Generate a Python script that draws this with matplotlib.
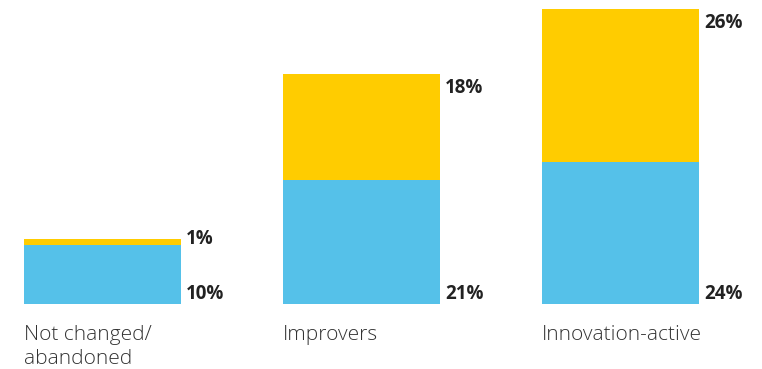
import matplotlib.pyplot as plt

categories = ['Not changed/\nabandoned', 'Improvers', 'Innovation-active']
lower = [10, 21, 24]   # blue
upper = [1, 18, 26]    # yellow

blue = '#55C1E9'
yellow = '#FFCC00'

fig = plt.figure(figsize=(7.62, 3.69), dpi=100)
ax = fig.add_axes([0, 65 / 369, 1, 304 / 369])

x = [0, 1, 2]
w = 157 / 259
ax.bar(x, lower, width=w, color=blue)
ax.bar(x, upper, width=w, bottom=lower, color=yellow)

ax.set_xlim(-102.5 / 259, (762 - 102.5) / 259)
ax.set_ylim(0, 304 / 5.9)
ax.axis('off')

for i in x:
    right = i + w / 2
    left = i - w / 2
    total = lower[i] + upper[i]
    # value labels to the right of each bar
    ax.annotate(f'{lower[i]}%', xy=(right, 0), xytext=(5, 10), textcoords='offset pixels',
                ha='left', va='center', fontsize=13.5, fontweight='bold', color='#222222',
                family='Open Sans')
    dy = -14 if upper[i] > 3 else 0
    ax.annotate(f'{upper[i]}%', xy=(right, total), xytext=(5, dy), textcoords='offset pixels',
                ha='left', va='center', fontsize=13.5, fontweight='bold', color='#222222',
                family='Open Sans')
    # category label under the bar
    ax.annotate(categories[i], xy=(left, 0), xytext=(0, -21), textcoords='offset pixels',
                ha='left', va='top', fontsize=15, color='#333333', family='Open Sans',
                fontweight='light', linespacing=1.3)

fig.savefig('out.png', dpi=100)
